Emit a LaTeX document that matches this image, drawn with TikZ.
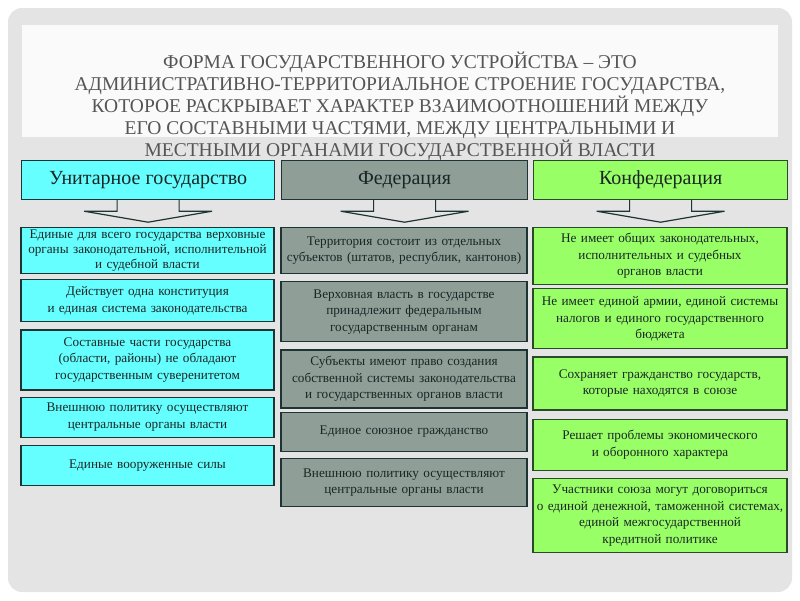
\documentclass[tikz,border=0pt]{standalone}
\usepackage{fontspec}
\setmainfont{Liberation Serif}
\usetikzlibrary{positioning}

\definecolor{pagegray}{HTML}{E4E4E4}
\definecolor{bandwhite}{HTML}{FAFAFA}
\definecolor{titlegray}{HTML}{555555}
\definecolor{unicyan}{HTML}{66FFFF}
\definecolor{fedgray}{HTML}{8F9F97}
\definecolor{confgreen}{HTML}{99FF66}
\definecolor{boxline}{HTML}{1E3434}
\definecolor{greenline}{HTML}{2A4A2A}
\definecolor{boxtext}{HTML}{1A2626}

\begin{document}
\begin{tikzpicture}[x=1pt, y=-1pt, node distance=6pt,
    head/.style={draw=boxline, line width=1.2pt, anchor=north west, minimum height=39pt,
                 text=boxtext, font=\fontsize{20}{22}\selectfont},
    item/.style={draw=boxline, line width=1.2pt, align=center, inner sep=2pt,
                 text=boxtext, font=\fontsize{13.2}{16.5}\selectfont},
    unibox/.style={item, fill=unicyan, text width=249pt},
    fedbox/.style={item, fill=fedgray, text width=242pt},
    confbox/.style={item, draw=greenline, fill=confgreen, text width=250pt},
    downarrow/.style={draw=boxline, line width=1.2pt, fill=pagegray}]

    % page
    \useasboundingbox (0,0) rectangle (800,600);
    \fill[white] (0,0) rectangle (800,600);
    \fill[pagegray, rounded corners=14pt] (8,8) rectangle (792,592);
    \fill[bandwhite] (22,25) rectangle (778,137);

    \node[text=titlegray, align=center, font=\fontsize{19.5}{22}\selectfont] (title) at (400,106)
        {ФОРМА ГОСУДАРСТВЕННОГО УСТРОЙСТВА – ЭТО\\
         АДМИНИСТРАТИВНО-ТЕРРИТОРИАЛЬНОЕ СТРОЕНИЕ ГОСУДАРСТВА,\\
         КОТОРОЕ РАСКРЫВАЕТ ХАРАКТЕР ВЗАИМООТНОШЕНИЙ МЕЖДУ\\
         ЕГО СОСТАВНЫМИ ЧАСТЯМИ, МЕЖДУ ЦЕНТРАЛЬНЫМИ И\\
         МЕСТНЫМИ ОРГАНАМИ ГОСУДАРСТВЕННОЙ ВЛАСТИ};

    % headers
    \node[head, fill=unicyan, minimum width=253pt] (uni) at (21,160) {Унитарное государство};
    \node[head, fill=fedgray, minimum width=246pt] (fed) at (281,160) {Федерация};
    \node[head, draw=greenline, fill=confgreen, minimum width=254pt] (conf) at (533,160) {Конфедерация};

    \foreach \h in {uni,fed,conf}
        \draw[downarrow] ([xshift=-31pt]\h.south) -- ++(0,11) -- ++(-33,0) -- ++(64,11)
            -- ++(64,-11) -- ++(-33,0) -- ++(0,-11);

    % unitary state
    \node[unibox, anchor=north, minimum height=46pt, font=\fontsize{13.2}{14.8}\selectfont] (u1) at (147.5,227)
        {Единые для всего государства верховные\\органы законодательной, исполнительной\\и судебной власти};
    \node[unibox, below=5pt of u1, minimum height=42pt] (u2)
        {Действует одна конституция\\и единая система законодательства};
    \node[unibox, below=7pt of u2, minimum height=60pt] (u3)
        {Составные части государства\\(области, районы) не обладают\\государственным суверенитетом};
    \node[unibox, below=6pt of u3, minimum height=40pt] (u4)
        {Внешнюю политику осуществляют\\центральные органы власти};
    \node[unibox, below=7pt of u4, minimum height=40pt] (u5)
        {Единые вооруженные силы};

    % federation
    \node[fedbox, anchor=north, minimum height=46pt] (f1) at (404,227)
        {Территория состоит из отдельных\\субъектов (штатов, республик, кантонов)};
    \node[fedbox, below=7pt of f1, minimum height=60pt] (f2)
        {Верховная власть в государстве\\принадлежит федеральным\\государственным органам};
    \node[fedbox, below=7pt of f2, minimum height=58pt] (f3)
        {Субъекты имеют право создания\\собственной системы законодательства\\и государственных органов власти};
    \node[fedbox, below=3pt of f3, minimum height=39pt] (f4)
        {Единое союзное гражданство};
    \node[fedbox, below=6pt of f4, minimum height=48pt] (f5)
        {Внешнюю политику осуществляют\\центральные органы власти};

    % confederation
    \node[confbox, anchor=north, minimum height=57pt] (k1) at (660,227)
        {Не имеет общих законодательных,\\исполнительных и судебных\\органов власти};
    \node[confbox, below=3pt of k1, minimum height=60pt] (k2)
        {Не имеет единой армии, единой системы\\налогов и единого государственного\\бюджета};
    \node[confbox, below=7pt of k2, minimum height=53pt] (k3)
        {Сохраняет гражданство государств,\\которые находятся в союзе};
    \node[confbox, below=8pt of k3, minimum height=51pt] (k4)
        {Решает проблемы экономического\\и оборонного характера};
    \node[confbox, below=7pt of k4, minimum height=74pt] (k5)
        {Участники союза могут договориться\\о единой денежной, таможенной системах,\\единой межгосударственной\\кредитной политике};
\end{tikzpicture}
\end{document}
